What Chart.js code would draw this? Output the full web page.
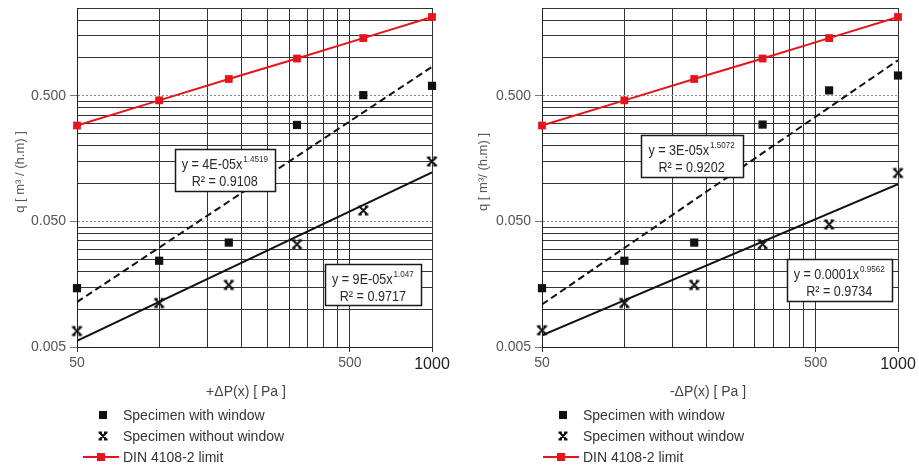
<!DOCTYPE html>
<html>
<head>
<meta charset="utf-8">
<script src="https://cdn.jsdelivr.net/npm/chart.js@4.4.1/dist/chart.umd.min.js"></script>
<style>
  body { margin: 0; width: 919px; height: 471px; background: #fff; position: relative; overflow: hidden;
         font-family: "Liberation Sans", Arial, sans-serif; }
  canvas.plot { position: absolute; top: 0; }
  .ytitle { position: absolute; width: 200px; height: 16px; line-height: 16px; text-align: center; font-size: 13px;
            color: #555; transform: rotate(-90deg); }
  .xtitle { position: absolute; top: 383px; width: 200px; text-align: center; font-size: 14px; color: #444; }
  .leg { position: absolute; height: 20px; line-height: 20px; font-size: 14px; color: #333; white-space: nowrap; }
  .leg canvas { position: absolute; left: 0; top: 3px; }
  .leg span { position: absolute; left: 40px; }
</style>
</head>
<body>
<canvas id="chartPos" class="plot" width="460" height="471" style="left:0"></canvas>
<canvas id="chartNeg" class="plot" width="459" height="471" style="left:460px"></canvas>

<div class="ytitle" style="left:-80px; top:164px">q [ m³ / (h.m) ]</div>
<div class="ytitle" style="left:383px; top:164px">q [ m³/ (h.m) ]</div>
<div class="xtitle" style="left:146px">+ΔP(x) [ Pa ]</div>
<div class="xtitle" style="left:608px">-ΔP(x) [ Pa ]</div>

<div class="leg" style="left:83px; top:405px"><canvas width="38" height="14" data-kind="square"></canvas><span>Specimen with window</span></div>
<div class="leg" style="left:83px; top:426px"><canvas width="38" height="14" data-kind="cross"></canvas><span>Specimen without window</span></div>
<div class="leg" style="left:83px; top:447px"><canvas width="38" height="14" data-kind="din"></canvas><span>DIN 4108-2 limit</span></div>
<div class="leg" style="left:543px; top:405px"><canvas width="38" height="14" data-kind="square"></canvas><span>Specimen with window</span></div>
<div class="leg" style="left:543px; top:426px"><canvas width="38" height="14" data-kind="cross"></canvas><span>Specimen without window</span></div>
<div class="leg" style="left:543px; top:447px"><canvas width="38" height="14" data-kind="din"></canvas><span>DIN 4108-2 limit</span></div>

<script>
// pressure steps [Pa] and measured air flow q [m3/(h.m)]
const pressureSteps = [50, 100, 180, 320, 560, 1000];
const dinLimit = [0.29, 0.46, 0.68, 0.99, 1.44, 2.12];

const posWithWindow = [0.0147, 0.0243, 0.0339, 0.293, 0.506, 0.60];
const posWithoutWindow = [0.0067, 0.0112, 0.0156, 0.0329, 0.0611, 0.150];
const negWithWindow = [0.0147, 0.0243, 0.0339, 0.295, 0.552, 0.725];
const negWithoutWindow = [0.0068, 0.0112, 0.0156, 0.0329, 0.0473, 0.1215];

// power trendlines, read at both ends of the axis
const trendRange = [50, 1000];
const posTrendWith = [0.0114, 0.85];
const posTrendWithout = [0.0056, 0.123];
const negTrendWith = [0.0109, 0.96];
const negTrendWithout = [0.0062, 0.099];

// axis grid and tick labels
const xGridValues = [50, 100, 150, 200, 250, 300, 350, 400, 450, 500, 1000];
const xLabelValues = [50, 500, 1000];
const yGridValues = [0.005, 0.01, 0.015, 0.02, 0.025, 0.03, 0.035, 0.04, 0.045,
                     0.05, 0.1, 0.15, 0.2, 0.25, 0.3, 0.35, 0.4, 0.45,
                     0.5, 1, 1.5, 2, 2.5];
const yLabelValues = [0.005, 0.05, 0.5];

const FONT = '"Liberation Sans", Arial, sans-serif';
const RED = '#e8141b';
const GRID = '#333';

function drawCross(g, cx, cy, r) {
    g.save();
    g.strokeStyle = '#111';
    g.lineWidth = 2;
    g.beginPath();
    g.moveTo(cx - r, cy - r); g.lineTo(cx + r, cy + r);
    g.moveTo(cx + r, cy - r); g.lineTo(cx - r, cy + r);
    g.moveTo(cx - r - 1, cy - r); g.lineTo(cx - r + 2.5, cy - r);
    g.moveTo(cx + r - 2.5, cy - r); g.lineTo(cx + r + 1, cy - r);
    g.moveTo(cx - r - 1, cy + r); g.lineTo(cx - r + 2.5, cy + r);
    g.moveTo(cx + r - 2.5, cy + r); g.lineTo(cx + r + 1, cy + r);
    g.stroke();
    g.restore();
}

const crossImg = document.createElement('canvas');
crossImg.width = 13;
crossImg.height = 13;
drawCross(crossImg.getContext('2d'), 6.5, 6.5, 4);

function toPoints(xs, ys) {
    return xs.map((x, i) => ({ x: x, y: ys[i] }));
}

// trendline equation boxes (Excel style), anchored in data units
const equationBoxes = {
    id: 'equationBoxes',
    afterDatasetsDraw(chart, args, opts) {
        const { ctx, scales: { x, y } } = chart;
        const squeeze = 0.9;
        (opts.items || []).forEach(b => {
            const cx = x.getPixelForValue(b.x);
            const cy = y.getPixelForValue(b.y);
            const left = Math.round(cx - b.w / 2) + 0.5;
            const top = Math.round(cy - b.h / 2) + 0.5;
            ctx.save();
            ctx.fillStyle = '#fff';
            ctx.fillRect(left, top, b.w, b.h);
            ctx.lineWidth = 1.5;
            ctx.strokeStyle = '#1a1a1a';
            ctx.strokeRect(left, top, b.w, b.h);

            ctx.translate(cx, 0);
            ctx.scale(squeeze, 1);
            ctx.fillStyle = '#2a2a2a';
            ctx.textBaseline = 'alphabetic';
            ctx.font = '14px ' + FONT;
            const w1 = ctx.measureText(b.base).width;
            ctx.font = '9px ' + FONT;
            const w2 = ctx.measureText(b.exp).width;
            const sx = -(w1 + w2 + 1) / 2;
            ctx.font = '14px ' + FONT;
            ctx.fillText(b.base, sx, top + 19);
            ctx.font = '9px ' + FONT;
            ctx.fillText(b.exp, sx + w1 + 1, top + 12);
            ctx.font = '14px ' + FONT;
            ctx.textAlign = 'center';
            ctx.fillText(b.r2, 0, top + 36);
            ctx.restore();
        });
    }
};

function isLabeled(list, ctx) {
    return ctx.tick && list.includes(ctx.tick.value);
}

function buildChart(canvasId, plotLeft, padRight, withWin, withoutWin, trendWith, trendWithout, boxes) {
    return new Chart(document.getElementById(canvasId), {
        type: 'line',
        data: {
            datasets: [
                {
                    label: 'DIN 4108-2 limit',
                    data: toPoints(pressureSteps, dinLimit),
                    borderColor: RED,
                    backgroundColor: RED,
                    borderWidth: 2,
                    pointStyle: 'rect',
                    pointRadius: 5.5,
                    pointBorderWidth: 0,
                    clip: false
                },
                {
                    label: 'Specimen with window',
                    data: toPoints(pressureSteps, withWin),
                    showLine: false,
                    backgroundColor: '#111',
                    borderColor: '#111',
                    pointStyle: 'rect',
                    pointRadius: 5.8,
                    pointBorderWidth: 0,
                    clip: false
                },
                {
                    label: 'Specimen without window',
                    data: toPoints(pressureSteps, withoutWin),
                    showLine: false,
                    pointStyle: crossImg,
                    clip: false
                },
                {
                    label: 'trend with window',
                    data: toPoints(trendRange, trendWith),
                    borderColor: '#111',
                    borderWidth: 2,
                    borderDash: [7, 4],
                    pointRadius: 0
                },
                {
                    label: 'trend without window',
                    data: toPoints(trendRange, trendWithout),
                    borderColor: '#111',
                    borderWidth: 2,
                    pointRadius: 0
                }
            ]
        },
        options: {
            responsive: false,
            animation: false,
            devicePixelRatio: 1,
            layout: { padding: { left: 0, top: 8, right: padRight, bottom: 0 } },
            plugins: {
                legend: { display: false },
                tooltip: { enabled: false },
                equationBoxes: { items: boxes }
            },
            scales: {
                x: {
                    type: 'logarithmic',
                    min: 50,
                    max: 1000,
                    afterBuildTicks: s => { s.ticks = xGridValues.map(v => ({ value: v })); },
                    afterFit: s => { s.height = 124; s.paddingLeft = 0; s.paddingRight = 0; },
                    ticks: {
                        autoSkip: false,
                        maxRotation: 0,
                        padding: 3,
                        callback: v => xLabelValues.includes(v) ? String(v) : '',
                        color: ctx => (ctx.tick && ctx.tick.value === 1000) ? '#222' : '#555',
                        font: ctx => ({ family: FONT, size: (ctx.tick && ctx.tick.value === 1000) ? 16 : 14 })
                    },
                    grid: {
                        color: GRID,
                        lineWidth: 1,
                        tickLength: 5,
                        tickColor: ctx => isLabeled(xLabelValues, ctx) ? GRID : 'rgba(0,0,0,0)'
                    },
                    border: { color: '#222', width: 1 }
                },
                y: {
                    type: 'logarithmic',
                    min: 0.005,
                    max: 2.5,
                    afterBuildTicks: s => { s.ticks = yGridValues.map(v => ({ value: v })); },
                    afterFit: s => { s.width = plotLeft; s.paddingTop = 0; s.paddingBottom = 0; },
                    ticks: {
                        autoSkip: false,
                        padding: 4,
                        callback: v => yLabelValues.includes(v) ? v.toFixed(3) : '',
                        color: '#555',
                        font: { family: FONT, size: 14 }
                    },
                    grid: {
                        color: ctx => (isLabeled(yLabelValues, ctx) && ctx.tick.value !== 0.005) ? '#8a8a8a' : GRID,
                        lineWidth: 1,
                        tickLength: 7,
                        tickColor: ctx => isLabeled(yLabelValues, ctx) ? '#777' : 'rgba(0,0,0,0)'
                    },
                    border: {
                        color: '#222',
                        width: 1,
                        dash: ctx => (isLabeled(yLabelValues, ctx) && ctx.tick.value !== 0.005) ? [2, 2] : []
                    }
                }
            }
        },
        plugins: [equationBoxes]
    });
}

buildChart('chartPos', 77, 28, posWithWindow, posWithoutWindow, posTrendWith, posTrendWithout, [
    { x: 174, y: 0.129, w: 100, h: 42, base: 'y = 4E-05x', exp: '1.4519', r2: 'R² = 0.9108' },
    { x: 607, y: 0.0157, w: 96, h: 41, base: 'y = 9E-05x', exp: '1.047', r2: 'R² = 0.9717' }
]);

buildChart('chartNeg', 82, 21, negWithWindow, negWithoutWindow, negTrendWith, negTrendWithout, [
    { x: 176, y: 0.167, w: 102, h: 42, base: 'y = 3E-05x', exp: '1.5072', r2: 'R² = 0.9202' },
    { x: 610, y: 0.0171, w: 105, h: 42, base: 'y = 0.0001x', exp: '0.9562', r2: 'R² = 0.9734' }
]);

// legend markers
document.querySelectorAll('.leg canvas').forEach(c => {
    const g = c.getContext('2d');
    const kind = c.dataset.kind;
    if (kind === 'square') {
        g.fillStyle = '#111';
        g.fillRect(16, 3, 8, 8);
    } else if (kind === 'cross') {
        drawCross(g, 20, 7, 3.5);
    } else {
        g.strokeStyle = RED;
        g.lineWidth = 2;
        g.beginPath();
        g.moveTo(0, 7);
        g.lineTo(36, 7);
        g.stroke();
        g.fillStyle = RED;
        g.fillRect(14, 3, 8, 8);
    }
});
</script>
</body>
</html>
